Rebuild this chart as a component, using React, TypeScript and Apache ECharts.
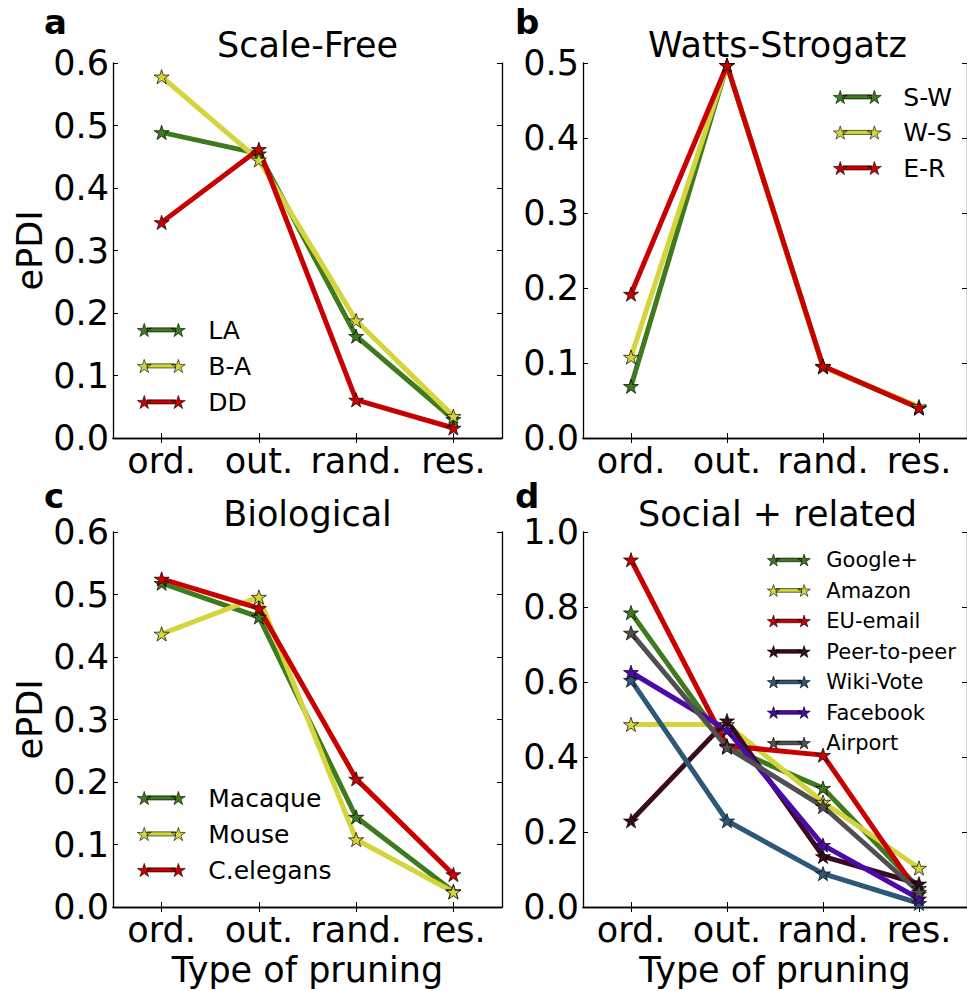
import React, { useEffect, useRef } from "react";
import * as echarts from "echarts";

const categories = ["ord.", "out.", "rand.", "res."];

// Panel a: Scale-Free
const sfLA = [0.489, 0.455, 0.163, 0.03];
const sfBA = [0.578, 0.445, 0.188, 0.035];
const sfDD = [0.345, 0.462, 0.061, 0.016];

// Panel b: Watts-Strogatz
const wsSW = [0.069, 0.497, 0.095, 0.04];
const wsWS = [0.108, 0.497, 0.095, 0.042];
const wsER = [0.192, 0.497, 0.096, 0.04];

// Panel c: Biological
const bioMacaque = [0.518, 0.464, 0.144, 0.025];
const bioMouse = [0.437, 0.496, 0.108, 0.024];
const bioCElegans = [0.525, 0.478, 0.205, 0.052];

// Panel d: Social + related
const socGoogle = [0.785, 0.428, 0.317, 0.05];
const socAmazon = [0.487, 0.487, 0.28, 0.104];
const socEU = [0.926, 0.43, 0.405, 0.035];
const socPeer = [0.23, 0.497, 0.135, 0.062];
const socWiki = [0.605, 0.23, 0.089, 0.01];
const socFacebook = [0.626, 0.472, 0.165, 0.022];
const socAirport = [0.731, 0.426, 0.268, 0.04];

const C_GREEN = "#3f7a1f";
const C_YELLOW = "#d4d43c";
const C_RED = "#c80000";
const C_PEER = "#3a0a1e";
const C_WIKI = "#2d5878";
const C_FB = "#4b0aa8";
const C_AIR = "#505050";

const STAR =
  "path://M50 0 L61.23 34.55 L97.55 34.55 L68.16 55.9 L79.39 90.45 L50 69.1 L20.61 90.45 L31.84 55.9 L2.45 34.55 L38.77 34.55 Z";
const LEGEND_ICON =
  "path://M7.5 0 L9.18 5.18 L14.63 5.18 L10.22 8.39 L11.91 13.57 L7.5 10.37 L3.09 13.57 L4.78 8.39 L0.37 5.18 L5.82 5.18 Z " +
  "M42.5 0 L44.18 5.18 L49.63 5.18 L45.22 8.39 L46.91 13.57 L42.5 10.37 L38.09 13.57 L39.78 8.39 L35.37 5.18 L40.82 5.18 Z " +
  "M10.5 4.6 L39.5 4.6 L39.5 8.8 L10.5 8.8 Z";

const FONT = "DejaVu Sans";
const BIG = 35;

export default function App() {
  const ref = useRef<HTMLDivElement>(null);
  useEffect(() => {
    if (!ref.current) return;
    const chart = echarts.init(ref.current, undefined, { renderer: "svg" });

    const grids = [
      { left: 113, top: 63, width: 389, height: 375 },
      { left: 583, top: 63, width: 389, height: 375 },
      { left: 113, top: 532, width: 389, height: 375 },
      { left: 583, top: 532, width: 389, height: 375 },
    ];
    const yMax = [0.6, 0.5, 0.6, 1.0];
    const yInt = [0.1, 0.1, 0.1, 0.2];

    const axisLine = { show: true, lineStyle: { color: "#000", width: 1.3 } };
    const tick = { show: true, inside: true, length: 5, lineStyle: { color: "#000", width: 1 } };

    const xAxis: any[] = [];
    const yAxis: any[] = [];
    for (let i = 0; i < 4; i++) {
      xAxis.push({
        type: "category",
        gridIndex: i,
        data: categories,
        boundaryGap: true,
        position: "bottom",
        axisLine,
        axisTick: { ...tick, alignWithLabel: true, interval: 0 },
        axisLabel: { interval: 0, fontSize: BIG, color: "#000", fontFamily: FONT, margin: 5 },
        splitLine: { show: false },
        name: i >= 2 ? "Type of pruning" : "",
        nameLocation: "middle",
        nameGap: 45,
        nameTextStyle: { fontSize: BIG, color: "#000", fontFamily: FONT },
      });
      xAxis.push({
        type: "category",
        gridIndex: i,
        data: categories,
        boundaryGap: true,
        position: "top",
        axisLine,
        axisTick: { ...tick, alignWithLabel: true, interval: 0 },
        axisLabel: { show: false },
        splitLine: { show: false },
      });
      yAxis.push({
        type: "value",
        gridIndex: i,
        min: 0,
        max: yMax[i],
        interval: yInt[i],
        position: "left",
        axisLine,
        axisTick: tick,
        splitLine: { show: false },
        axisLabel: {
          fontSize: BIG,
          color: "#000",
          fontFamily: FONT,
          margin: 4,
          formatter: (v: number) => v.toFixed(1),
        },
        name: i === 0 || i === 2 ? "ePDI" : "",
        nameLocation: "middle",
        nameGap: 66,
        nameTextStyle: { fontSize: BIG, color: "#000", fontFamily: FONT },
      });
      yAxis.push({
        type: "value",
        gridIndex: i,
        min: 0,
        max: yMax[i],
        interval: yInt[i],
        position: "right",
        axisLine,
        axisTick: tick,
        splitLine: { show: false },
        axisLabel: { show: false },
      });
    }

    const mk = (name: string, data: number[], color: string, panel: number, sz = 15) => ({
      type: "line",
      name,
      data,
      xAxisIndex: panel * 2,
      yAxisIndex: panel * 2,
      symbol: STAR,
      symbolSize: sz,
      symbolKeepAspect: true,
      showAllSymbol: true,
      lineStyle: { color, width: 5 },
      itemStyle: { color, borderColor: "#000", borderWidth: 0.7 },
      emphasis: { disabled: true },
    });

    const series = [
      mk("LA", sfLA, C_GREEN, 0),
      mk("B-A", sfBA, C_YELLOW, 0),
      mk("DD", sfDD, C_RED, 0),
      mk("S-W", wsSW, C_GREEN, 1),
      mk("W-S", wsWS, C_YELLOW, 1),
      mk("E-R", wsER, C_RED, 1),
      mk("Macaque", bioMacaque, C_GREEN, 2),
      mk("Mouse", bioMouse, C_YELLOW, 2),
      mk("C.elegans", bioCElegans, C_RED, 2),
      mk("Google+", socGoogle, C_GREEN, 3),
      mk("Amazon", socAmazon, C_YELLOW, 3),
      mk("EU-email", socEU, C_RED, 3),
      mk("Peer-to-peer", socPeer, C_PEER, 3),
      mk("Wiki-Vote", socWiki, C_WIKI, 3),
      mk("Facebook", socFacebook, C_FB, 3),
      mk("Airport", socAirport, C_AIR, 3),
    ];

    const legendBase = (names: string[], left: number, top: number, opts: any) => ({
      orient: "vertical",
      left,
      top,
      padding: 0,
      icon: LEGEND_ICON,
      itemWidth: opts.w,
      itemHeight: opts.h,
      itemGap: opts.gap,
      selectedMode: false,
      data: names,
      itemStyle: { borderColor: "#000", borderWidth: 0.6 },
      textStyle: {
        fontSize: opts.fs,
        lineHeight: opts.lh,
        color: "#000",
        fontFamily: FONT,
        padding: [0, 0, 0, opts.pad],
      },
    });

    const letter = (t: string, left: number, top: number) => ({
      type: "text",
      left,
      top,
      style: { text: t, fontSize: 34, fontWeight: "bold", fill: "#000", fontFamily: FONT },
    });

    const option: any = {
      animation: false,
      backgroundColor: "#fff",
      textStyle: { fontFamily: FONT },
      title: [
        { text: "Scale-Free", left: 307.5, top: 27, textAlign: "center" },
        { text: "Watts-Strogatz", left: 777.5, top: 27, textAlign: "center" },
        { text: "Biological", left: 307.5, top: 496, textAlign: "center" },
        { text: "Social + related", left: 777.5, top: 496, textAlign: "center" },
      ].map((t) => ({
        ...t,
        padding: 0,
        textStyle: { fontSize: BIG, fontWeight: "normal", color: "#000", fontFamily: FONT },
      })),
      grid: grids,
      xAxis,
      yAxis,
      legend: [
        legendBase(["LA", "B-A", "DD"], 137, 316, { w: 48, h: 14, gap: 8, fs: 25, lh: 28, pad: 18 }),
        legendBase(["S-W", "W-S", "E-R"], 833, 83, { w: 48, h: 14, gap: 7.5, fs: 25, lh: 28, pad: 17 }),
        legendBase(["Macaque", "Mouse", "C.elegans"], 137, 784, { w: 48, h: 14, gap: 8, fs: 25, lh: 28, pad: 18 }),
        legendBase(
          ["Google+", "Amazon", "EU-email", "Peer-to-peer", "Wiki-Vote", "Facebook", "Airport"],
          767,
          548,
          { w: 43, h: 13, gap: 6.5, fs: 21, lh: 24, pad: 11 }
        ),
      ],
      graphic: [
        letter("a", 44, 5),
        letter("b", 515, 5),
        letter("c", 44, 479),
        letter("d", 515, 479),
      ],
      series,
    };

    chart.setOption(option);
    return () => chart.dispose();
  }, []);

  return (
    <div
      ref={ref}
      style={{ position: "fixed", left: 0, top: 0, width: 967, height: 991, background: "#fff" }}
    />
  );
}
